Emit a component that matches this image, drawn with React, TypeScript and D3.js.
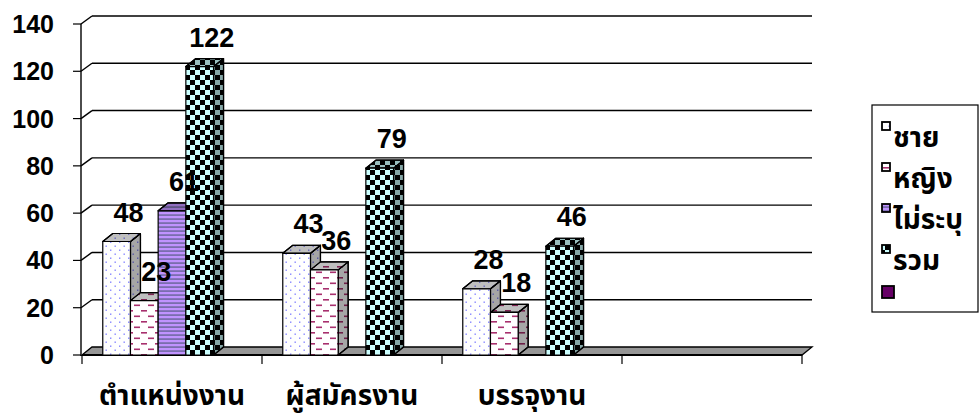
import * as d3 from "d3";

// chart data
const categories = ["ตำแหน่งงาน", "ผู้สมัครงาน", "บรรจุงาน", ""];
const seriesNames = ["ชาย", "หญิง", "ไม่ระบุ", "รวม", ""];
const male = [48, 43, 28, null];
const female = [23, 36, 18, null];
const unspecified = [61, null, null, null];
const total = [122, 79, 46, null];
const blank = [null, null, null, null];
const yTicks = [0, 20, 40, 60, 80, 100, 120, 140];

const seriesValues: (number | null)[][] = [male, female, unspecified, total, blank];
const seriesFills = ["url(#dots)", "url(#dashes)", "url(#stripes)", "url(#checker)", "#660066"];

const W = 979;
const H = 417;
const DX = 10;
const DY = -8;
const thaiFont = "Tahoma, 'Noto Sans Thai', 'Loma', 'Garuda', 'DejaVu Sans', sans-serif";
const numFont = "Arial, 'Liberation Sans', sans-serif";

function Patterns() {
  return (
    <defs>
      <pattern id="dots" width={9} height={8} patternUnits="userSpaceOnUse">
        <rect width={9} height={8} fill="#ffffff" />
        <rect x={2} y={1.5} width={1.4} height={1.4} fill="#8585ff" />
        <rect x={6.5} y={5.5} width={1.4} height={1.4} fill="#8585ff" />
      </pattern>
      <pattern id="dashes" width={14} height={11} patternUnits="userSpaceOnUse">
        <rect width={14} height={11} fill="#ffffff" />
        <rect x={1} y={2} width={6} height={1.6} fill="#a8306e" />
        <rect x={8} y={7.5} width={6} height={1.6} fill="#a8306e" />
      </pattern>
      <pattern id="stripes" width={4} height={4} patternUnits="userSpaceOnUse">
        <rect width={4} height={4} fill="#c093ff" />
        <rect y={2.2} width={4} height={1.8} fill="#7a6eae" />
      </pattern>
      <pattern id="checker" width={10} height={10} patternUnits="userSpaceOnUse">
        <rect width={10} height={10} fill="#ccffff" />
        <rect width={5} height={5} fill="#000000" />
        <rect x={5} y={5} width={5} height={5} fill="#000000" />
      </pattern>
    </defs>
  );
}

export default function App() {
  const x = d3.scaleBand<string>().domain(categories.map((c, i) => String(i))).range([82, 802]).padding(0);
  const inner = d3
    .scaleBand<string>()
    .domain(seriesNames.map((s, i) => String(i)))
    .range([0, x.bandwidth()])
    .paddingInner(0)
    .paddingOuter(0.75);
  const y = d3.scaleLinear().domain([0, 140]).range([355, 24]);

  const x0 = x.range()[0];
  const x1 = x.range()[1];
  const bw = inner.bandwidth();

  const bars: JSX.Element[] = [];
  const labels: JSX.Element[] = [];
  categories.forEach((_, ci) => {
    seriesValues.forEach((vals, si) => {
      const v = vals[ci];
      if (v == null) return;
      const bx = (x(String(ci)) as number) + (inner(String(si)) as number);
      const top = y(v);
      const bottom = y(0);
      const fill = seriesFills[si];
      const topPts = `${bx},${top} ${bx + DX},${top + DY} ${bx + bw + DX},${top + DY} ${bx + bw},${top}`;
      const sidePts = `${bx + bw},${top} ${bx + bw + DX},${top + DY} ${bx + bw + DX},${bottom + DY} ${bx + bw},${bottom}`;
      bars.push(
        <g key={`b${ci}-${si}`} stroke="#000" strokeWidth={1.2} strokeLinejoin="round">
          <polygon points={sidePts} fill={fill} />
          <polygon points={sidePts} fill="#000" fillOpacity={0.35} stroke="none" />
          <polygon points={sidePts} fill="none" />
          <polygon points={topPts} fill={fill} />
          <polygon points={topPts} fill="#000" fillOpacity={0.25} stroke="none" />
          <polygon points={topPts} fill="none" />
          <rect x={bx} y={top} width={bw} height={bottom - top} fill={fill} />
        </g>
      );
      labels.push(
        <text
          key={`l${ci}-${si}`}
          x={bx + bw / 2 + 12}
          y={top + DY - 12}
          textAnchor="middle"
          fontFamily={numFont}
          fontWeight="bold"
          fontSize={27}
        >
          {v}
        </text>
      );
    });
  });

  const floor = `${x0},${y(0)} ${x0 + DX},${y(0) + DY} ${x1 + DX},${y(0) + DY} ${x1},${y(0)}`;

  return (
    <svg width={W} height={H} style={{ position: "absolute", left: 0, top: 0, background: "#fff" }}>
      <Patterns />
      {/* back wall gridlines */}
      {yTicks.slice(1).map((t) => (
        <g key={`g${t}`} stroke="#000" strokeWidth={1.4}>
          <line x1={x0 + DX} x2={x1 + DX} y1={y(t) + DY} y2={y(t) + DY} />
          <line x1={x0 - 1} x2={x0 + DX} y1={y(t)} y2={y(t) + DY} />
        </g>
      ))}
      {/* floor */}
      <polygon points={floor} fill="#969696" stroke="#000" strokeWidth={1.3} />
      <line x1={x0} x2={x1} y1={y(0)} y2={y(0)} stroke="#000" strokeWidth={2} />
      {/* y axis */}
      <line x1={x0 - 1} x2={x0 - 1} y1={y(140)} y2={y(0) + 1} stroke="#000" strokeWidth={1.4} />
      {yTicks.map((t) => (
        <g key={`t${t}`}>
          <line x1={x0 - 9} x2={x0 - 1} y1={y(t)} y2={y(t)} stroke="#000" strokeWidth={1.2} />
          <text
            x={54}
            y={y(t)}
            dy="0.36em"
            textAnchor="end"
            fontFamily={numFont}
            fontWeight="bold"
            fontSize={25}
          >
            {t}
          </text>
        </g>
      ))}
      {/* x axis ticks and labels */}
      {categories.map((c, i) => (
        <line
          key={`xt${i}`}
          x1={x(String(i)) as number}
          x2={x(String(i)) as number}
          y1={y(0)}
          y2={y(0) + 9}
          stroke="#000"
          strokeWidth={1.2}
        />
      ))}
      <line x1={x1} x2={x1} y1={y(0)} y2={y(0) + 9} stroke="#000" strokeWidth={1.2} />
      {categories.map((c, i) => (
        <text
          key={`xl${i}`}
          x={(x(String(i)) as number) + x.bandwidth() / 2}
          y={405}
          textAnchor="middle"
          fontFamily={thaiFont}
          fontWeight="bold"
          fontSize={28}
        >
          {c}
        </text>
      ))}
      {bars}
      {labels}
      {/* legend */}
      <rect x={872} y={105} width={106} height={207} fill="#fff" stroke="#000" strokeWidth={1.2} />
      {seriesNames.map((s, i) => {
        const sy = 122 + i * 41;
        const size = i === 4 ? 12 : 8;
        return (
          <g key={`lg${i}`}>
            <rect x={882} y={sy} width={size} height={size} fill={seriesFills[i]} stroke="#000" strokeWidth={1.8} />
            <text x={893} y={sy + 25} fontFamily={thaiFont} fontWeight="bold" fontSize={28}>
              {s}
            </text>
          </g>
        );
      })}
    </svg>
  );
}
